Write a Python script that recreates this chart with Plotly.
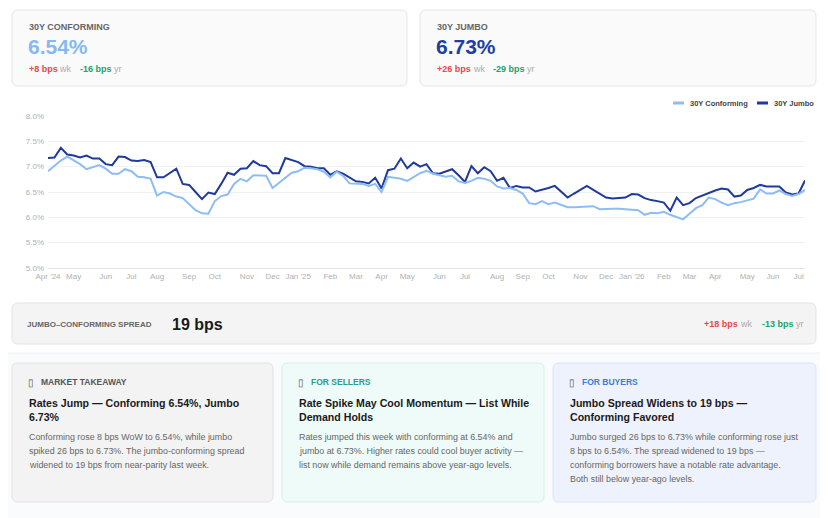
import pandas as pd
import plotly.graph_objects as go

# weekly rate survey, Thursdays
start_date = "2024-04-04"

conforming = [
    6.91, 7.01, 7.12, 7.20, 7.13, 7.05, 6.95, 6.99, 7.03, 6.96,
    6.86, 6.86, 6.95, 6.91, 6.80, 6.79, 6.76, 6.43, 6.50, 6.47,
    6.41, 6.38, 6.25, 6.14, 6.08, 6.07, 6.32, 6.42, 6.45, 6.66,
    6.76, 6.71, 6.83, 6.83, 6.82, 6.58, 6.68, 6.78, 6.88, 6.91,
    6.98, 6.97, 6.95, 6.90, 6.79, 6.90, 6.82, 6.67, 6.66, 6.66,
    6.62, 6.66, 6.50, 6.80, 6.78, 6.76, 6.72, 6.79, 6.87, 6.92,
    6.86, 6.83, 6.80, 6.82, 6.71, 6.68, 6.72, 6.78, 6.76, 6.72,
    6.61, 6.57, 6.58, 6.54, 6.47, 6.28, 6.26, 6.32, 6.26, 6.29,
    6.24, 6.20, 6.20, 6.21, 6.22, 6.22, 6.16, 6.17, 6.17, 6.17,
    6.16, 6.15, 6.14, 6.05, 6.09, 6.08, 6.11, 6.05, 6.01, 5.96,
    6.07, 6.18, 6.24, 6.39, 6.36, 6.29, 6.24, 6.28, 6.30, 6.33,
    6.37, 6.55, 6.47, 6.47, 6.53, 6.46, 6.42, 6.46, 6.54,
]

jumbo = [
    7.17, 7.18, 7.37, 7.24, 7.22, 7.18, 7.22, 7.16, 7.16, 7.05,
    7.03, 7.20, 7.19, 7.12, 7.11, 7.13, 7.09, 6.79, 6.79, 6.88,
    6.96, 6.66, 6.64, 6.50, 6.36, 6.49, 6.46, 6.66, 6.88, 6.84,
    6.96, 6.97, 7.11, 7.03, 7.01, 6.87, 6.87, 7.17, 7.13, 7.09,
    7.01, 7.00, 6.97, 6.97, 6.84, 6.91, 6.86, 6.78, 6.71, 6.70,
    6.67, 6.78, 6.57, 6.93, 6.96, 7.16, 6.97, 7.08, 7.00, 7.05,
    6.87, 6.86, 6.91, 6.95, 6.83, 6.70, 7.01, 6.87, 6.99, 6.91,
    6.72, 6.78, 6.58, 6.62, 6.59, 6.59, 6.51, 6.54, 6.58, 6.62,
    6.51, 6.39, 6.47, 6.54, 6.62, 6.54, 6.46, 6.39, 6.37, 6.38,
    6.39, 6.46, 6.45, 6.38, 6.34, 6.32, 6.29, 6.13, 6.39, 6.24,
    6.28, 6.38, 6.43, 6.49, 6.53, 6.57, 6.55, 6.41, 6.43, 6.54,
    6.58, 6.64, 6.61, 6.61, 6.61, 6.49, 6.45, 6.47, 6.73,
]

y_ticks = [5.0, 5.5, 6.0, 6.5, 7.0, 7.5, 8.0]

dates = pd.date_range(start_date, periods=len(conforming), freq="7D")

# one tick at the first week of each month
tick_vals = []
tick_text = []
prev_month = None
for d in dates:
    if d.month != prev_month:
        tick_vals.append(d)
        if d.month == 1 or len(tick_vals) == 1:
            tick_text.append(d.strftime("%b '%y"))
        else:
            tick_text.append(d.strftime("%b"))
        prev_month = d.month

FONT = "Liberation Sans, Arial, sans-serif"
LIGHT = "#8dbdf2"
DARK = "#1f3a9a"
RED = "#e5484d"
GREEN = "#20a36b"
GREYTXT = "#aaaaaa"

# page has an 8px body margin, so the figure sits at (8, 8) in the window
OFF = 8
WIN_W, WIN_H = 828, 518
W, H = WIN_W - OFF, WIN_H - OFF
# plot area in window pixels
L, R, T, B = 48, 805, 116, 268


def px(x):
    return (x - L) / (R - L)


def py(y):
    return (B - y) / (B - T)


def rrect(x0, y0, x1, y1, r, fill, line):
    pts = [
        ("M", x0 + r, y0), ("L", x1 - r, y0), ("Q", x1, y0, x1, y0 + r),
        ("L", x1, y1 - r), ("Q", x1, y1, x1 - r, y1), ("L", x0 + r, y1),
        ("Q", x0, y1, x0, y1 - r), ("L", x0, y0 + r), ("Q", x0, y0, x0 + r, y0),
    ]
    path = ""
    for p in pts:
        cmd = p[0]
        coords = p[1:]
        s = []
        for i in range(0, len(coords), 2):
            s.append(f"{px(coords[i]):.5f},{py(coords[i + 1]):.5f}")
        path += cmd + " " + " ".join(s) + " "
    path += "Z"
    fig.add_shape(type="path", path=path, xref="paper", yref="paper",
                  fillcolor=fill, line=dict(color=line, width=1), layer="below")


def txt(x, y, s, size, color, anchor="left"):
    fig.add_annotation(x=px(x), y=py(y), xref="paper", yref="paper", text=s,
                       showarrow=False, xanchor=anchor, yanchor="middle",
                       font=dict(size=size, color=color, family=FONT))


fig = go.Figure()
fig.add_trace(go.Scatter(x=dates, y=jumbo, name="30Y Jumbo", mode="lines",
                         line=dict(color=DARK, width=2)))
fig.add_trace(go.Scatter(x=dates, y=conforming, name="30Y Conforming", mode="lines",
                         line=dict(color=LIGHT, width=2)))

fig.update_layout(
    width=W, height=H,
    margin=dict(l=L - OFF, r=WIN_W - R, t=T - OFF, b=WIN_H - B),
    paper_bgcolor="white", plot_bgcolor="white",
    showlegend=False,
    font=dict(family=FONT),
)
fig.update_xaxes(range=[dates[0], dates[-1]], tickvals=tick_vals, ticktext=tick_text,
                 showgrid=False, showline=True, linecolor="#e4e4e4", linewidth=1,
                 tickfont=dict(size=8, color="#b0b0b0"), ticks="")
fig.update_yaxes(range=[5.0, 8.0], tickvals=y_ticks, ticktext=[f"{v:.1f}%" for v in y_ticks],
                 gridcolor="#f1f1f1", gridwidth=1, zeroline=False,
                 tickfont=dict(size=8, color="#b0b0b0"), ticks="", ticklabelstandoff=3)

# ---- top stat cards ----
rrect(12, 10, 407, 86, 6, "#fafafa", "#e6e6e6")
rrect(420, 10, 816, 86, 6, "#fafafa", "#e6e6e6")

txt(27, 27, "<b>30Y CONFORMING</b>", 9, "#666666")
txt(26, 46, "<b>6.54%</b>", 21, "#86b9f3")
txt(27, 69, "<b>+8 bps</b>", 9, RED)
txt(57, 69, "wk", 9, GREYTXT)
txt(78, 69, "<b>-16 bps</b>", 9, GREEN)
txt(112, 69, "yr", 9, GREYTXT)

txt(435, 27, "<b>30Y JUMBO</b>", 9, "#666666")
txt(434, 46, "<b>6.73%</b>", 21, "#1e3fa6")
txt(435, 69, "<b>+26 bps</b>", 9, RED)
txt(471, 69, "wk", 9, GREYTXT)
txt(491, 69, "<b>-29 bps</b>", 9, GREEN)
txt(525, 69, "yr", 9, GREYTXT)

# ---- legend ----
fig.add_shape(type="line", xref="paper", yref="paper", x0=px(673), x1=px(684),
              y0=py(103), y1=py(103), line=dict(color=LIGHT, width=3))
txt(688, 103, "<b>30Y Conforming</b>", 7.5, "#444444")
fig.add_shape(type="line", xref="paper", yref="paper", x0=px(757), x1=px(768),
              y0=py(103), y1=py(103), line=dict(color=DARK, width=3))
txt(772, 103, "<b>30Y Jumbo</b>", 7.5, "#444444")

# ---- spread bar ----
rrect(12, 303, 816, 344, 6, "#f4f4f4", "#e4e4e4")
txt(25, 324, "<b>JUMBO–CONFORMING SPREAD</b>", 8, "#666666")
txt(170, 324, "<b>19 bps</b>", 16, "#1a1a1a")
txt(702, 324, "<b>+18 bps</b>", 9, RED)
txt(738, 324, "wk", 9, GREYTXT)
txt(760, 324, "<b>-13 bps</b>", 9, GREEN)
txt(794, 324, "yr", 9, GREYTXT)

# ---- bottom section ----
fig.add_shape(type="rect", xref="paper", yref="paper", x0=px(0), x1=px(WIN_W),
              y0=py(353), y1=py(WIN_H), fillcolor="#f9fbfc", line=dict(width=0), layer="below")
fig.add_shape(type="line", xref="paper", yref="paper", x0=px(0), x1=px(WIN_W),
              y0=py(353), y1=py(353), line=dict(color="#eef1f3", width=1))

cards = [
    dict(x0=12, x1=273, fill="#f3f3f3", line="#e2e2e2", label="MARKET TAKEAWAY", lcolor="#555555",
         title=["Rates Jump — Conforming 6.54%, Jumbo", "6.73%"],
         body=["Conforming rose 8 bps WoW to 6.54%, while jumbo",
               "spiked 26 bps to 6.73%. The jumbo-conforming spread",
               "widened to 19 bps from near-parity last week."]),
    dict(x0=282, x1=544, fill="#eefbf8", line="#d8efe9", label="FOR SELLERS", lcolor="#2a9d8f",
         title=["Rate Spike May Cool Momentum — List While", "Demand Holds"],
         body=["Rates jumped this week with conforming at 6.54% and",
               "jumbo at 6.73%. Higher rates could cool buyer activity —",
               "list now while demand remains above year-ago levels."]),
    dict(x0=553, x1=816, fill="#eef2fc", line="#dce4f5", label="FOR BUYERS", lcolor="#3b7ddd",
         title=["Jumbo Spread Widens to 19 bps —", "Conforming Favored"],
         body=["Jumbo surged 26 bps to 6.73% while conforming rose just",
               "8 bps to 6.54%. The spread widened to 19 bps —",
               "conforming borrowers have a notable rate advantage.",
               "Both still below year-ago levels."]),
]

for c in cards:
    rrect(c["x0"], 363, c["x1"], 502, 6, c["fill"], c["line"])
    lx = c["x0"] + 15
    txt(lx - 1, 382, "▯", 10, "#555555")
    txt(lx + 12, 382, "<b>" + c["label"] + "</b>", 8.5, c["lcolor"])
    for i, line in enumerate(c["title"]):
        txt(lx, 403 + 14 * i, "<b>" + line + "</b>", 10.6, "#1a1a1a")
    for i, line in enumerate(c["body"]):
        txt(lx, 437 + 14 * i, line, 8.9, "#666666")

fig.write_html("out.html")
